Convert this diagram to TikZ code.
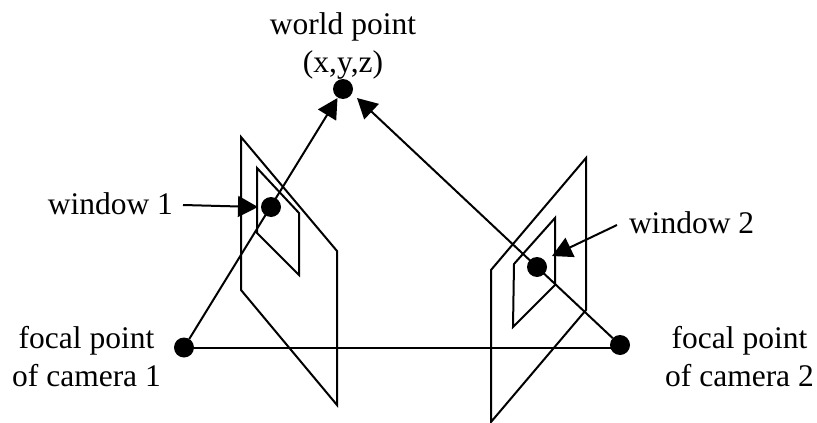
\documentclass[tikz,border=0pt]{standalone}
\usepackage{fontspec}
\setmainfont{Liberation Serif}
\usetikzlibrary{arrows.meta}
\tikzset{
  x=1pt,y=-1pt,
  plane/.style={draw=black,line width=2pt},
  ray/.style={draw=black,line width=2pt},
  pointer/.style={draw=black,line width=2pt,-{Triangle[length=20pt,width=21pt]}},
  dot/.style={circle,fill=black,minimum size=20pt,inner sep=0pt,outer sep=0pt},
  lbl/.style={inner sep=0pt,outer sep=0pt,align=center,font=\fontsize{31.5}{37.5}\selectfont},
}
\begin{document}
\begin{tikzpicture}
\useasboundingbox (0,0) rectangle (817,423);
% image planes
\draw[plane] (241,137) -- (337,251) -- (337,405) -- (241,290) -- cycle;
\draw[plane] (257,168) -- (299,213) -- (299,275) -- (257,233) -- cycle;
\draw[plane] (586,158) -- (491,270) -- (491,422) -- (586,310) -- cycle;
\draw[plane] (555,218) -- (514,264) -- (513,327) -- (555,285) -- cycle;
% points
\node[dot] (wp) at (343,89) {};
\node[dot] (p1) at (271,207) {};
\node[dot] (p2) at (537,267) {};
\node[dot] (f1) at (184,347.5) {};
\node[dot] (f2) at (620,345) {};
% labels
\node[lbl] (lwp) at (343,46) {world point\\(x,y,z)};
\node[lbl,anchor=base east] (lw1) at (173,214) {window 1};
\node[lbl,anchor=base west] (lw2) at (629,233) {window 2};
\node[lbl] (lf1) at (86.5,356.5) {focal point\\of camera 1};
\node[lbl] (lf2) at (739.5,356.5) {focal point\\of camera 2};
% arrow ends
\coordinate (t1) at (337.5,98);
\coordinate (t2) at (357,98);
\coordinate (t3) at (258,207);
\coordinate (s3) at (183,205);
\coordinate (t4) at (552,256);
\coordinate (s4) at (617,225);
% connectors
\draw[ray] (f1) -- (f1 -| f2);
\draw[pointer] (f1) -- (t1);
\draw[pointer] (f2) -- (t2);
\draw[pointer] (s3) -- (t3);
\draw[pointer] (s4) -- (t4);
\end{tikzpicture}
\end{document}
